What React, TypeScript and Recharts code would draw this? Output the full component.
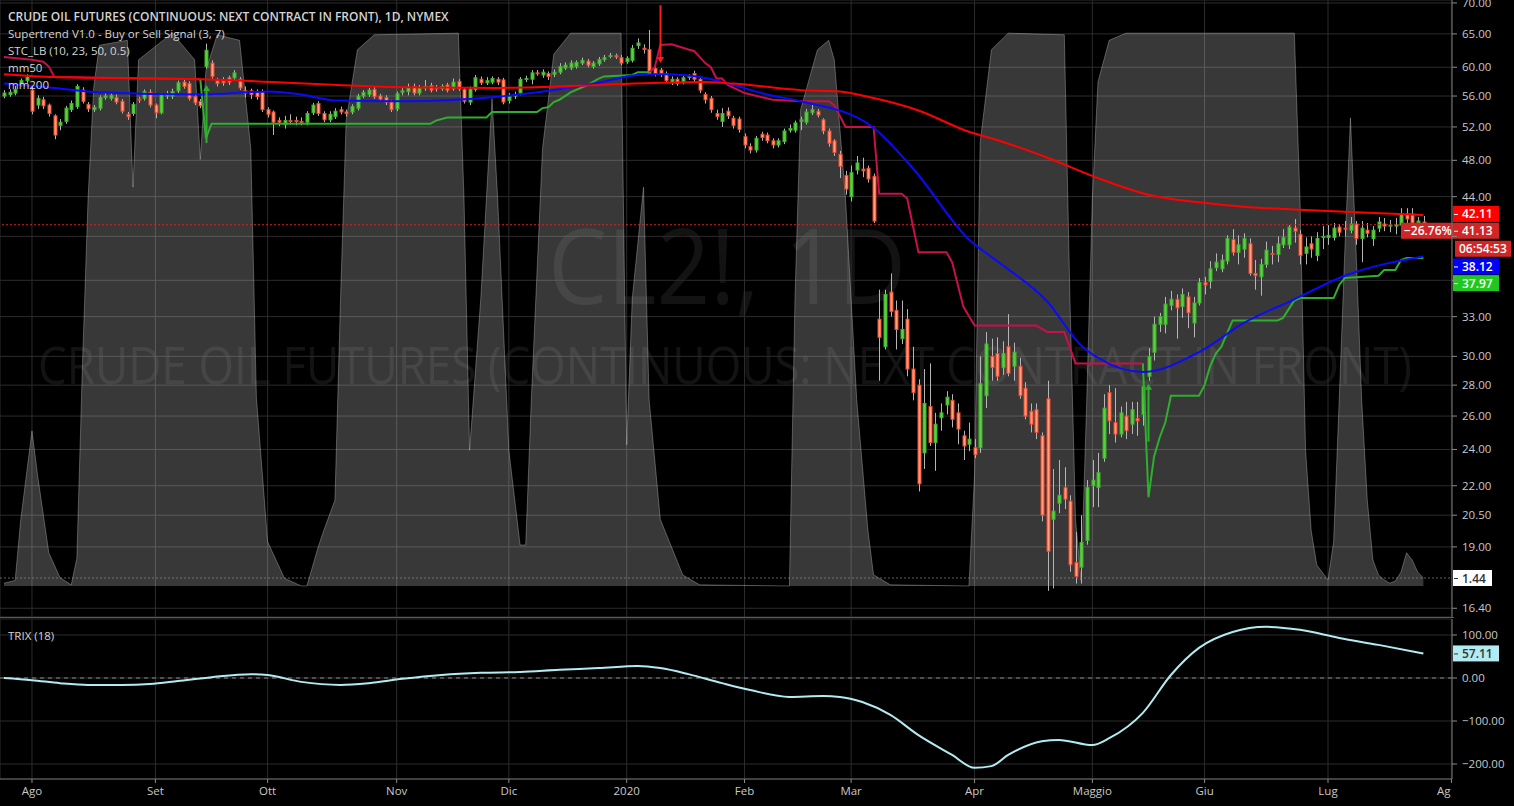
import React from 'react'
import { ComposedChart, Bar, Line, Area, Scatter, XAxis, YAxis, CartesianGrid, ReferenceLine } from 'recharts'

// month labels and trading days per month (first entry: bars before 1 Aug 2019)
const monthLabels = ['Ago', 'Set', 'Ott', 'Nov', 'Dic', '2020', 'Feb', 'Mar', 'Apr', 'Maggio', 'Giu', 'Lug', 'Ag']
const barsBeforeAug = 5
const monthLengths = [22, 20, 23, 20, 21, 21, 19, 22, 21, 20, 22, 22]

// daily candles [open, high, low, close]
const jul19 = [
  [56.0, 56.8, 55.7, 56.4], [56.2, 56.9, 55.9, 56.5], [56.4, 57.4, 56.1, 56.9], [57.6, 58.4, 57.3, 58.1], [58.1, 59.0, 57.8, 58.6],
]
const aug19 = [
  [56.8, 57.5, 53.6, 54.0], [54.8, 56.1, 54.3, 55.7], [55.5, 55.9, 54.3, 54.7], [54.8, 55.0, 53.3, 53.7], [53.4, 53.6, 50.5, 51.0],
  [52.2, 53.0, 51.6, 52.6], [52.7, 54.7, 52.4, 54.4], [54.2, 55.4, 53.9, 55.0], [54.6, 57.6, 54.3, 57.3], [56.8, 57.2, 55.0, 55.3],
  [54.9, 55.2, 53.9, 54.3], [54.2, 54.8, 53.9, 54.5], [54.4, 56.1, 54.1, 55.8], [55.8, 56.5, 55.5, 56.0], [55.7, 56.4, 55.4, 56.1],
  [55.8, 56.2, 54.9, 55.2], [55.3, 55.6, 53.7, 54.0], [53.6, 53.9, 52.9, 53.3], [53.7, 55.2, 53.4, 54.9], [55.6, 55.9, 55.1, 55.5],
  [55.7, 56.9, 55.4, 56.6], [56.5, 56.9, 54.5, 54.8],
]
const sep19 = [
  [54.8, 55.0, 53.1, 53.8], [53.8, 56.4, 53.6, 56.2], [56.0, 56.7, 55.6, 56.3], [56.0, 57.0, 55.6, 56.6], [56.7, 58.1, 56.4, 57.8],
  [57.9, 58.3, 57.0, 57.3], [57.7, 58.0, 55.4, 55.7], [55.9, 56.2, 54.8, 55.1], [55.3, 55.6, 54.4, 54.7], [60.1, 63.5, 59.8, 62.5],
  [60.6, 61.0, 58.3, 58.7], [58.1, 58.5, 57.3, 57.7], [58.1, 58.6, 57.4, 57.8], [58.5, 58.8, 57.5, 57.9], [58.5, 59.6, 58.1, 59.2],
  [58.3, 58.6, 56.8, 57.1], [56.7, 57.3, 55.8, 56.4], [56.7, 57.0, 55.6, 56.2], [56.5, 56.9, 55.5, 55.9], [56.6, 56.9, 53.9, 54.2],
]
const oct19 = [
  [54.2, 54.5, 53.2, 53.6], [53.9, 54.1, 51.0, 52.6], [52.8, 53.2, 52.1, 52.6], [52.3, 53.4, 51.8, 52.8], [52.8, 53.6, 52.3, 52.7],
  [52.8, 53.3, 52.2, 52.7], [52.7, 53.2, 52.2, 52.6], [52.6, 54.0, 52.2, 53.7], [53.8, 55.1, 53.5, 54.8], [55.0, 55.3, 53.4, 53.7],
  [53.7, 54.0, 52.6, 52.9], [52.9, 54.0, 52.6, 53.6], [53.3, 54.4, 53.0, 54.0], [54.2, 54.6, 53.6, 53.9], [53.9, 54.2, 53.3, 53.7],
  [53.9, 54.9, 53.6, 54.6], [54.4, 56.3, 54.1, 56.0], [56.0, 56.8, 55.7, 56.5], [56.2, 57.1, 55.9, 56.8], [56.9, 57.2, 55.6, 55.9],
  [56.0, 56.3, 55.2, 55.6], [55.8, 56.1, 54.8, 55.2], [55.2, 55.5, 53.9, 54.2],
]
const nov19 = [
  [54.3, 56.6, 54.0, 56.3], [56.5, 57.2, 56.1, 56.7], [56.6, 57.7, 56.1, 57.2], [57.3, 57.7, 56.1, 56.4], [56.4, 57.5, 56.1, 57.1],
  [57.1, 58.2, 56.7, 57.3], [57.4, 57.8, 56.5, 56.8], [57.1, 57.5, 56.6, 57.0], [57.0, 57.6, 56.7, 57.3], [57.5, 57.8, 56.5, 56.8],
  [57.0, 58.4, 56.7, 57.9], [58.0, 58.3, 56.7, 57.0], [56.9, 57.2, 55.0, 55.3], [55.2, 57.3, 54.8, 56.9], [56.9, 58.9, 56.6, 58.5],
  [58.3, 58.7, 57.5, 57.8], [57.8, 58.6, 57.5, 58.1], [57.9, 58.7, 57.6, 58.4], [58.3, 58.6, 57.5, 57.9], [58.2, 58.5, 54.9, 55.2],
]
const dec19 = [
  [55.4, 56.4, 55.0, 56.0], [56.0, 56.6, 55.6, 56.2], [56.4, 58.6, 56.1, 58.3], [58.3, 58.8, 57.9, 58.4], [58.3, 59.6, 57.6, 59.2],
  [59.2, 59.6, 58.8, 59.1], [58.9, 59.7, 58.5, 59.3], [59.1, 59.4, 58.2, 58.7], [59.0, 59.7, 58.6, 59.3], [59.3, 60.6, 59.0, 60.1],
  [59.9, 60.7, 59.6, 60.3], [59.9, 61.0, 59.6, 60.6], [60.1, 61.0, 59.8, 60.7], [60.6, 61.4, 60.3, 61.0], [60.9, 61.2, 60.0, 60.3],
  [60.1, 60.9, 59.8, 60.6], [60.5, 61.5, 60.2, 61.1], [61.1, 61.8, 60.8, 61.4], [61.6, 62.1, 61.3, 61.7], [61.7, 62.0, 61.2, 61.5],
  [61.4, 61.8, 60.3, 60.6],
]
const jan20 = [
  [60.8, 61.6, 60.5, 61.3], [61.0, 63.3, 60.7, 62.8], [63.2, 64.3, 62.7, 63.6], [62.8, 63.4, 62.0, 62.6], [62.6, 65.6, 58.9, 59.1],
  [59.8, 60.4, 58.7, 59.1], [59.6, 59.9, 58.6, 59.0], [59.1, 59.4, 57.8, 58.1], [57.8, 58.7, 57.5, 58.3], [58.3, 58.6, 57.4, 57.7],
  [57.9, 58.9, 57.6, 58.5], [58.6, 59.0, 58.2, 58.7], [59.1, 59.5, 57.9, 58.3], [58.3, 58.6, 56.4, 56.8], [56.2, 56.5, 55.0, 55.5],
  [55.7, 56.0, 53.8, 54.2], [53.7, 54.2, 52.9, 53.3], [52.7, 54.4, 52.0, 53.7], [54.0, 54.5, 53.0, 53.4], [53.1, 53.4, 51.8, 52.2],
  [53.0, 53.3, 51.3, 51.7],
]
const feb20 = [
  [50.8, 51.2, 49.4, 49.8], [49.6, 50.0, 48.8, 49.2], [49.2, 50.9, 48.9, 50.6], [51.1, 51.4, 50.3, 50.7], [51.0, 51.3, 50.0, 50.3],
  [50.3, 50.6, 49.4, 49.8], [49.8, 50.6, 49.5, 50.3], [50.2, 51.8, 49.9, 51.5], [51.6, 52.3, 51.3, 51.8], [51.6, 52.8, 51.3, 52.5],
  [52.7, 53.3, 51.6, 52.9], [52.6, 54.3, 52.3, 53.9], [53.8, 54.9, 53.5, 54.2], [54.0, 54.3, 53.2, 53.5], [52.9, 53.1, 51.1, 51.5],
  [51.5, 51.8, 49.6, 50.0], [50.3, 50.5, 48.5, 48.9], [48.7, 49.1, 46.0, 47.3], [46.3, 46.8, 44.2, 44.8],
]
const mar20 = [
  [44.0, 47.4, 43.5, 46.6], [46.9, 48.5, 46.4, 47.7], [47.0, 48.3, 46.1, 46.8], [47.1, 47.4, 45.5, 45.9], [46.2, 46.5, 41.3, 41.5],
  [32.8, 35.2, 28.3, 31.4], [30.7, 35.2, 30.5, 34.8], [35.0, 36.6, 33.0, 33.4], [33.5, 34.3, 30.5, 32.0], [31.3, 34.3, 30.9, 32.0],
  [32.8, 33.6, 28.6, 29.1], [29.1, 30.7, 27.0, 27.5], [28.0, 28.4, 21.7, 22.1], [23.8, 29.1, 22.9, 26.8], [26.6, 29.5, 24.2, 24.4],
  [24.4, 26.2, 22.8, 25.5], [25.9, 26.8, 25.1, 26.2], [26.7, 27.6, 26.1, 27.2], [27.0, 27.4, 25.3, 25.8], [26.2, 26.8, 24.3, 25.2],
  [24.8, 25.1, 23.4, 24.2], [24.3, 25.6, 23.9, 24.6],
]
const apr20 = [
  [24.1, 24.6, 23.5, 23.7], [24.1, 30.0, 23.8, 28.1], [27.3, 31.8, 26.5, 30.9], [30.0, 31.3, 28.3, 29.2], [30.2, 31.4, 28.3, 28.6],
  [29.2, 31.1, 28.7, 30.2], [30.7, 33.2, 28.6, 28.8], [29.3, 31.0, 28.3, 30.3], [29.3, 29.9, 27.1, 27.3], [27.8, 28.2, 25.8, 26.0],
  [26.3, 26.8, 25.0, 25.5], [26.4, 26.8, 24.6, 25.0], [24.8, 25.0, 20.2, 20.5], [27.1, 28.3, 17.1, 18.8], [20.3, 22.9, 17.2, 20.7],
  [21.1, 23.4, 20.6, 21.5], [21.9, 23.0, 20.8, 21.3], [21.2, 21.5, 17.9, 18.2], [18.3, 19.7, 17.4, 17.7], [18.1, 20.5, 17.4, 19.2],
  [19.3, 22.3, 19.1, 21.9],
]
const may20 = [
  [22.0, 23.4, 20.9, 22.3], [21.9, 23.8, 20.9, 22.7], [23.5, 27.4, 23.3, 26.5], [27.5, 28.0, 24.9, 25.7], [25.6, 27.8, 24.4, 24.9],
  [24.9, 26.6, 24.7, 26.2], [26.0, 26.9, 24.6, 25.1], [25.5, 26.9, 24.9, 26.4], [25.85, 26.9, 24.8, 25.7], [26.1, 28.4, 25.4, 27.9],
  [28.6, 30.6, 28.3, 30.0], [30.3, 33.0, 29.7, 32.4], [32.4, 33.3, 31.8, 33.0], [32.4, 34.6, 31.7, 34.0], [33.9, 35.1, 33.5, 34.4],
  [34.4, 34.8, 31.3, 33.7], [33.8, 35.3, 32.9, 34.8], [34.6, 35.0, 32.1, 33.3], [32.5, 34.6, 31.4, 34.1], [34.1, 36.2, 33.9, 35.8],
]
const jun20 = [
  [35.8, 36.3, 34.8, 35.6], [35.9, 37.7, 35.3, 37.0], [37.1, 38.4, 36.8, 37.6], [37.0, 38.3, 36.7, 37.8], [37.7, 40.1, 37.4, 39.8],
  [39.7, 40.7, 38.2, 38.5], [38.5, 40.1, 37.4, 39.2], [38.8, 40.3, 38.0, 39.8], [39.3, 39.8, 36.4, 36.6], [36.6, 37.8, 35.2, 36.4],
  [36.3, 37.9, 34.7, 37.4], [37.4, 39.5, 37.1, 38.7], [38.4, 39.1, 37.4, 38.3], [38.3, 40.0, 37.6, 39.3], [39.2, 40.7, 38.9, 39.9],
  [39.2, 41.1, 38.8, 40.9], [40.8, 41.7, 39.4, 40.5], [40.2, 40.6, 37.4, 38.2], [38.4, 39.9, 37.4, 39.0], [39.3, 40.0, 38.0, 38.8],
  [38.2, 40.4, 37.7, 39.8], [39.9, 41.0, 38.8, 40.0],
]
const jul20 = [
  [39.9, 41.1, 39.2, 40.1], [39.9, 41.3, 39.6, 40.8], [40.9, 41.2, 40.0, 40.4], [40.8, 41.5, 40.0, 40.7], [40.6, 41.9, 40.3, 41.2],
  [41.2, 41.5, 39.2, 39.8], [39.8, 41.5, 37.6, 40.8], [40.6, 41.3, 39.9, 40.3], [39.8, 41.0, 39.1, 40.6], [40.8, 41.9, 40.4, 41.4],
  [41.2, 41.8, 40.5, 41.0], [41.0, 41.6, 40.4, 41.1], [41.0, 41.8, 40.2, 41.1], [41.1, 42.8, 40.8, 42.2], [42.2, 42.8, 41.2, 41.7],
  [42.2, 42.8, 41.0, 41.3], [41.3, 41.9, 41.0, 41.5], [41.4, 42.0, 40.9, 41.13],
]

// indicator readings [bar index, value]
const mm200 = [
  [0, 59.0], [9, 58.6], [35, 58.3], [71, 57.2], [88, 57.1], [106, 57.5], [117, 57.8], [124, 57.9], [130, 57.7], [142, 56.8],
  [149, 56.6], [154, 55.9], [163, 54.1], [172, 51.4], [177, 50.4], [186, 48.3], [195, 46.0], [204, 44.2], [213, 43.4],
  [222, 42.9], [229, 42.7], [240, 42.4], [253, 42.11],
]
const mm50 = [
  [0, 57.7], [9, 57.1], [17, 56.5], [35, 56.2], [47, 56.6], [53, 56.2], [59, 55.4], [71, 55.3], [88, 55.9], [106, 57.8],
  [113, 58.9], [118, 59.0], [124, 58.6], [130, 57.5], [136, 56.2], [142, 55.3], [154, 52.4], [162, 47.1], [172, 39.7],
  [177, 37.7], [186, 34.2], [192, 30.8], [195, 29.9], [203, 28.9], [213, 30.3], [221, 32.5], [230, 34.4], [239, 36.4], [253, 38.12],
]
const trendDownA = [[0, 61.5], [5, 61.1], [7, 60.8], [8, 60.1], [9, 58.6], [35, 58.3]]
const trendUpA = [
  [35, 58.3], [36, 50.6], [37, 52.4], [76, 52.4], [77, 52.8], [79, 53.2], [86, 53.2], [87, 53.9], [95, 53.9], [96, 54.4],
  [97, 54.5], [98, 55.2], [99, 55.5], [101, 56.5], [104, 57.5], [106, 58.4], [107, 58.7], [112, 58.9], [113, 59.3], [115, 59.3],
]
const trendDownB = [
  [115, 59.3], [116, 60.0], [117, 63.3], [119, 63.4], [122, 62.6], [123, 62.4], [125, 60.6], [126, 60.0], [127, 58.4],
  [128, 58.4], [129, 57.5], [132, 56.4], [137, 55.5], [142, 55.3], [147, 55.3], [148, 54.8], [150, 52.0], [155, 52.0],
  [156, 44.3], [160, 44.3], [161, 43.8], [163, 38.5], [168, 38.5], [169, 37.6], [171, 33.8], [173, 32.3], [184, 32.3],
  [186, 31.8], [189, 31.8], [191, 29.5], [203, 29.5],
]
const trendUpB = [
  [203, 29.5], [204, 21.4], [205, 23.6], [206, 24.7], [207, 25.6], [208, 27.3], [213, 27.3], [214, 28.0], [215, 29.3],
  [216, 30.2], [217, 30.7], [218, 31.7], [219, 32.7], [227, 32.7], [228, 32.9], [229, 33.6], [230, 34.3], [231, 34.5],
  [237, 34.5], [238, 35.6], [239, 36.2], [245, 36.4], [246, 36.9], [248, 36.9], [249, 37.8], [250, 37.97], [253, 37.97],
]
const stcValues = [
  [0, 0.5], [2, 1], [3, 12], [5, 28], [6, 20], [8, 6], [10, 1.5], [12, 0.2], [13, 5], [14, 40], [15, 70], [16, 90], [17, 97.6],
  [22, 98.5], [23, 72], [24, 95], [30, 99.8], [34, 95], [35, 77], [36, 93], [38, 99.5], [42, 98.5], [44, 79], [45, 34], [47, 8],
  [50, 1.4], [53, 0], [54, 0], [56, 7], [57, 10], [59, 15.5], [60, 52], [61, 84], [63, 96.8], [66, 99.5], [81, 99.8], [82, 70],
  [83, 24.5], [85, 52], [87, 88], [88, 70], [90, 24.5], [92, 7.4], [93, 7.4], [94, 33.6], [96, 79], [98, 96], [101, 99.8],
  [110, 99.8], [111, 25.5], [112, 52], [114, 72], [115, 33.6], [117, 12], [121, 2], [124, 0.2], [140, 0], [141, 52], [142, 86],
  [145, 96.8], [147, 98.5], [148, 95], [150, 70], [152, 33.6], [154, 10], [155, 2], [158, 0.2], [172, 0], [173, 20], [174, 80],
  [176, 96.8], [179, 99.8], [189, 99.5], [190, 52], [191, 12], [192, 1], [193, 33.6], [194, 70], [195, 91], [197, 98.5],
  [200, 99.8], [230, 99.8], [231, 70], [232, 24.5], [233, 10], [234, 3.8], [236, 1.1], [237, 8], [238, 33.6], [239, 60.6],
  [240, 84.5], [241, 60.6], [242, 33.6], [243, 15.5], [244, 4.7], [245, 2], [246, 1.1], [247, 0.5], [248, 0.9], [249, 2.5],
  [250, 6], [251, 4.7], [252, 2.5], [253, 1.44],
]
const trixValues = [
  [0, 0], [5, -5], [10, -12], [15, -16], [21, -16], [26, -14], [31, -7], [37, 2], [44, 9], [47, 7], [53, -9], [60, -16],
  [65, -12], [71, -2], [78, 7], [85, 12], [92, 14], [99, 19], [106, 23], [113, 28], [117, 23], [122, 9], [128, -12],
  [133, -28], [140, -44], [146, -42], [149, -44], [153, -56], [158, -86], [163, -133], [169, -179], [173, -209], [176, -205],
  [179, -179], [185, -147], [188, -144], [194, -156], [197, -140], [203, -81], [208, 7], [213, 70], [219, 107], [225, 119],
  [231, 112], [238, 93], [245, 77], [253, 57.11],
]
// supertrend signal arrows: tip price at bar
const buySignals = [[36, 57.5], [204, 28.1]]
const sellSignals = [[117, 60.6]]

const priceTicks = [70, 65, 60, 56, 52, 48, 44, 40, 36, 33, 30, 28, 26, 24, 22, 20.5, 19, 16.4]
const hiddenPriceLabels = [40, 36]
const trixTicks = [100, 0, -100, -200]

const FONT = "'Open Sans', sans-serif"
const W = 1514
const AXIS_W = 62
const X_DOMAIN = [-0.7, 258.1]

const monthTicks: number[] = []
{
  let acc = barsBeforeAug
  monthTicks.push(acc)
  monthLengths.forEach(n => { acc += n; monthTicks.push(acc) })
}

const candles = [...jul19, ...aug19, ...sep19, ...oct19, ...nov19, ...dec19, ...jan20, ...feb20, ...mar20, ...apr20, ...may20, ...jun20, ...jul20]
const rows = candles.map(([o, h, l, c], i) => ({ i, o, h, l, c }))
const pts = (a: number[][]) => a.map(([i, v]) => ({ i, v }))

const Candle = (props: any) => {
  const { x, y, width, height, payload } = props
  if (!payload || payload.h == null || !isFinite(y) || !isFinite(height)) return <g />
  const top = Math.min(y, y + height)
  const hgt = Math.abs(height)
  const cx = Math.round(x + width / 2)
  const lnH = Math.log(payload.h)
  const lnL = Math.log(payload.l)
  const py = (v: number) => top + ((lnH - Math.log(v)) / (lnH - lnL)) * hgt
  const up = payload.c >= payload.o
  const bTop = py(Math.max(payload.o, payload.c))
  const bBot = py(Math.min(payload.o, payload.c))
  return (
    <g>
      <line x1={cx + 0.5} x2={cx + 0.5} y1={top} y2={top + hgt} stroke="#b5b5b5" strokeWidth={1} />
      <rect x={cx - 1} y={bTop} width={3} height={Math.max(bBot - bTop, 1)}
        fill={up ? '#5ad13f' : '#ffa07e'} stroke={up ? '#3fb02f' : '#f2452b'} strokeWidth={1} />
    </g>
  )
}

const Arrow = (dir: 'up' | 'down', color: string) => (props: any) => {
  const { cx, cy } = props
  if (!isFinite(cx) || !isFinite(cy)) return <g />
  const x = Math.round(cx) + 0.5
  const len = 58
  if (dir === 'down') {
    return (
      <g>
        <line x1={x} x2={x} y1={cy - len} y2={cy - 3} stroke={color} strokeWidth={2} />
        <path d={`M${x - 3.5},${cy - 6} L${x + 3.5},${cy - 6} L${x},${cy} Z`} fill={color} />
      </g>
    )
  }
  return (
    <g>
      <line x1={x} x2={x} y1={cy + 3} y2={cy + len} stroke={color} strokeWidth={2} />
      <path d={`M${x - 3.5},${cy + 6} L${x + 3.5},${cy + 6} L${x},${cy} Z`} fill={color} />
    </g>
  )
}

const Tag = (props: any) => {
  const { viewBox, items } = props
  if (!viewBox) return null
  const ax = viewBox.x + viewBox.width
  const y0 = viewBox.y
  return (
    <g>
      {items.map((t: any, k: number) => {
        const cy = y0 + (t.dy || 0)
        const x = ax + (t.dx || 0)
        return (
          <g key={k}>
            <rect x={x + 1} y={cy - 8} width={t.w || 46} height={16} fill={t.bg} />
            {t.tick !== false && <line x1={x + 2} x2={x + 6} y1={cy + 0.5} y2={cy + 0.5} stroke={t.fg} strokeWidth={1} />}
            <text x={x + (t.tx || 10)} y={cy + 4.5} fill={t.fg} fontSize={12} fontWeight={600} fontFamily={FONT}>{t.text}</text>
          </g>
        )
      })}
    </g>
  )
}

const PriceTick = (props: any) => {
  const { x, y, payload } = props
  if (hiddenPriceLabels.includes(payload.value)) return <g />
  return <text x={x} y={y + 4} fill="#c8c8c8" fontSize={11.5} fontFamily={FONT}>{payload.value.toFixed(2)}</text>
}
const TrixTick = (props: any) => {
  const { x, y, payload } = props
  const s = payload.value.toFixed(2).replace('-', '\u2212')
  return <text x={x} y={y + 4} fill="#c8c8c8" fontSize={11.5} fontFamily={FONT}>{s}</text>
}
const MonthTick = (props: any) => {
  const { x, y, index } = props
  const label = monthLabels[index] ?? ''
  const last = index === monthLabels.length - 1
  return (
    <text x={last ? x - 1 : x} y={y + 10} textAnchor={last ? 'end' : 'middle'} fill="#c8c8c8" fontSize={11.5} fontFamily={FONT}>
      {label}
    </text>
  )
}

const lineProps = { type: 'linear' as const, strokeWidth: 2, dot: false, activeDot: false, isAnimationActive: false }

export default function App() {
  return (
    <div style={{ position: 'absolute', left: 0, top: 0, width: W, height: 806, background: '#000', overflow: 'hidden', fontFamily: FONT }}>
      <svg width={W} height={806} style={{ position: 'absolute', left: 0, top: 0 }}>
        <text x={548} y={304} fontSize={104} fontFamily={FONT} fill="rgba(255,255,255,0.075)" textLength={358} lengthAdjust="spacingAndGlyphs">CL2!, 1D</text>
        <text x={38} y={384} fontSize={51} fontFamily={FONT} fill="rgba(255,255,255,0.075)" textLength={1374} lengthAdjust="spacingAndGlyphs">
          CRUDE OIL FUTURES (CONTINUOUS: NEXT CONTRACT IN FRONT)
        </text>
      </svg>

      <div style={{ position: 'absolute', left: 0, top: 0 }}>
        <ComposedChart width={W} height={618} data={rows} margin={{ top: 0, right: 0, bottom: 1, left: 0 }}>
          <CartesianGrid stroke="#2c2c2c" />
          <XAxis dataKey="i" type="number" domain={X_DOMAIN} ticks={monthTicks} allowDataOverflow hide height={0} />
          <YAxis orientation="right" width={AXIS_W} scale="log" domain={[16.06, 70.5]} allowDataOverflow ticks={priceTicks}
            interval={0} tick={<PriceTick />} tickSize={5} tickMargin={5} stroke="#6a6a6a" tickLine={{ stroke: '#8a8a8a' }} />
          <YAxis yAxisId="stc" hide domain={[-5.6, 105.78]} allowDataOverflow />
          <Area yAxisId="stc" data={pts(stcValues)} dataKey="v" type="linear" fill="rgba(255,255,255,0.22)" fillOpacity={1}
            stroke="rgba(255,255,255,0.28)" strokeWidth={1} isAnimationActive={false} dot={false} activeDot={false} />
          <ReferenceLine yAxisId="stc" y={1.44} stroke="#8a8a8a" strokeOpacity={0.7} strokeDasharray="2 2"
            label={<Tag items={[{ text: '1.44', bg: '#ffffff', fg: '#333333', w: 39 }]} />} />
          <Bar dataKey={(d: any) => [d.l, d.h]} barSize={4} shape={<Candle />} isAnimationActive={false} />
          <Line data={pts(trendDownA)} dataKey="v" stroke="#c8104a" {...lineProps} />
          <Line data={pts(trendUpA)} dataKey="v" stroke="#2fae2f" {...lineProps} />
          <Line data={pts(trendDownB)} dataKey="v" stroke="#c8104a" {...lineProps} />
          <Line data={pts(trendUpB)} dataKey="v" stroke="#2fae2f" {...lineProps} />
          <Line data={pts(mm50)} dataKey="v" stroke="#0a0aff" {...lineProps} type="monotone" />
          <Line data={pts(mm200)} dataKey="v" stroke="#ff0000" {...lineProps} type="monotone" />
          <Scatter data={pts(buySignals)} dataKey="v" shape={Arrow('up', '#2fae2f')} isAnimationActive={false} />
          <Scatter data={pts(sellSignals)} dataKey="v" shape={Arrow('down', '#ff1a1a')} isAnimationActive={false} />
          <ReferenceLine y={41.13} stroke="#e02020" strokeDasharray="2 2"
            label={<Tag items={[
              { text: '41.13', bg: '#d22626', fg: '#ffffff', dy: 6 },
              { text: '\u221226.76%', bg: '#d22626', fg: '#ffffff', dy: 6, dx: -52, w: 52, tick: false, tx: 4 },
              { text: '06:54:53', bg: '#d22626', fg: '#ffffff', dy: 24, dx: 2, w: 56, tick: false, tx: 5 },
            ]} />} />
          <ReferenceLine y={42.11} stroke="none" label={<Tag items={[{ text: '42.11', bg: '#ff0000', fg: '#ffffff', dy: -1 }]} />} />
          <ReferenceLine y={38.12} stroke="none" label={<Tag items={[{ text: '38.12', bg: '#0000ff', fg: '#ffffff', dy: 10 }]} />} />
          <ReferenceLine y={37.97} stroke="none" label={<Tag items={[{ text: '37.97', bg: '#1fc81f', fg: '#ffffff', dy: 25 }]} />} />
        </ComposedChart>
      </div>

      <div style={{ position: 'absolute', left: 0, top: 617, width: W - AXIS_W + 2, height: 1, background: '#5a5a5a' }} />

      <div style={{ position: 'absolute', left: 0, top: 618 }}>
        <ComposedChart width={W} height={188} data={rows} margin={{ top: 1, right: 0, bottom: 0, left: 0 }}>
          <CartesianGrid stroke="#2c2c2c" />
          <XAxis dataKey="i" type="number" domain={X_DOMAIN} ticks={monthTicks} allowDataOverflow height={27} interval={0}
            tick={<MonthTick />} tickSize={4} stroke="#6a6a6a" tickLine={{ stroke: '#8a8a8a' }} />
          <YAxis orientation="right" width={AXIS_W} domain={[-234.9, 137.2]} allowDataOverflow ticks={trixTicks} interval={0}
            tick={<TrixTick />} tickSize={5} tickMargin={5} stroke="#6a6a6a" tickLine={{ stroke: '#8a8a8a' }} />
          <ReferenceLine y={0} stroke="#8a8a8a" strokeDasharray="4 4" />
          <Line data={pts(trixValues)} dataKey="v" stroke="#b2ebf2" {...lineProps} type="monotone" />
          <ReferenceLine y={57.11} stroke="none" label={<Tag items={[{ text: '57.11', bg: '#b2ebf2', fg: '#333333' }]} />} />
        </ComposedChart>
      </div>

      <svg width={W} height={806} style={{ position: 'absolute', left: 0, top: 0, pointerEvents: 'none' }}>
        <g fontFamily={FONT} fill="#d4d4d4">
          <text x={8} y={20.5} fontSize={12} fontWeight={600}>CRUDE OIL FUTURES (CONTINUOUS: NEXT CONTRACT IN FRONT), 1D, NYMEX</text>
          <text x={8} y={37.5} fontSize={11.5}>Supertrend V1.0 - Buy or Sell Signal (3, 7)</text>
          <text x={8} y={55} fontSize={11.5}>STC_LB (10, 23, 50, 0.5)</text>
          <text x={8} y={72} fontSize={11.5}>mm50</text>
          <text x={8} y={89} fontSize={11.5}>mm200</text>
          <text x={8} y={640} fontSize={11.5}>TRIX (18)</text>
        </g>
      </svg>
    </div>
  )
}
